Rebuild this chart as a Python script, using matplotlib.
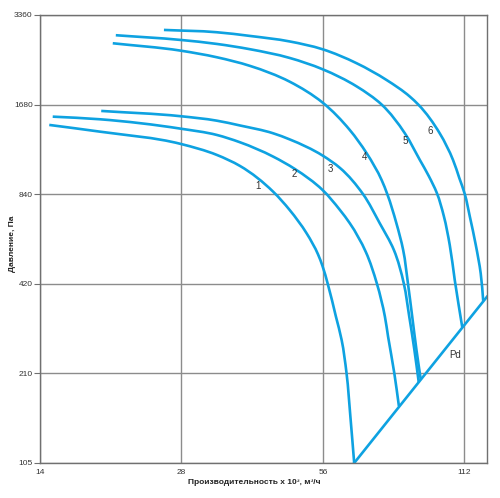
import numpy as np
import matplotlib
matplotlib.use("Agg")
import matplotlib.pyplot as plt
from matplotlib.path import Path
from matplotlib.patches import PathPatch
from matplotlib.ticker import FixedLocator, NullLocator

plt.rcParams['font.family'] = ['Liberation Sans', 'DejaVu Sans']

# fan curves, Q in 10^3 m3/h, P in Pa
q1 = [14.65, 18.8, 27.9, 33.3, 37.3, 43.9, 47.6, 51.7, 54.7, 55.9, 57.4, 59.7, 61.4, 62.9, 64.1, 65.3]
p1 = [1435, 1362, 1239, 1138, 1045, 856, 743, 621, 527, 482, 418, 326, 272, 210, 150, 105]

q2 = [14.9, 18.8, 27.9, 33.3, 37.3, 43.9, 48.8, 55.9, 60.9, 63.9, 69.1, 73.0, 75.9, 77.1, 79.5, 81.3]
p2 = [1530, 1499, 1394, 1328, 1255, 1123, 1021, 868, 743, 671, 538, 420, 326, 279, 210, 163]

q3 = [18.9, 27.9, 33.3, 37.3, 43.9, 47.6, 55.9, 60.9, 68.2, 74.0, 79.3, 83.3, 85.5, 87.7, 89.6]
p3 = [1599, 1535, 1483, 1429, 1345, 1283, 1133, 1029, 840, 671, 546, 420, 327, 252, 196]

q4 = [20.0, 27.9, 33.3, 39.2, 47.6, 55.9, 63.9, 69.4, 74.7, 76.8, 80.3, 83.0, 85.0, 86.8, 88.6, 90.5]
p4 = [2699, 2549, 2422, 2265, 2005, 1707, 1380, 1153, 937, 840, 671, 546, 420, 325, 252, 200]

q5 = [20.3, 27.9, 33.3, 39.2, 47.6, 55.9, 66.1, 74.7, 83.7, 90.1, 94.1, 97.9, 101.3, 104.3, 106.9, 110.9]
p5 = [2872, 2769, 2685, 2577, 2409, 2208, 1933, 1680, 1345, 1094, 967, 848, 710, 567, 432, 300]

q6 = [25.7, 33.3, 39.2, 47.6, 55.9, 66.1, 76.5, 85.8, 89.4, 99.3, 106.0, 109.3, 112.3, 115.1, 118.5, 121.4, 122.9]
p6 = [2992, 2939, 2856, 2737, 2577, 2312, 2032, 1786, 1680, 1345, 1094, 952, 840, 706, 567, 455, 368]

# dynamic pressure line
pd_q = [65.3, 125.2]
pd_p = [105, 380]

curves = [(q1, p1), (q2, p2), (q3, p3), (q4, p4), (q5, p5), (q6, p6)]
labels = ['1', '2', '3', '4', '5', '6']
label_q = [40.7, 48.7, 58.0, 68.6, 83.7, 94.6]
label_p = [895, 982, 1018, 1123, 1271, 1373]

x_ticks = [14, 28, 56, 112]
y_ticks = [105, 210, 420, 840, 1680, 3360]
x_lim = (14, 125.2)
y_lim = (105, 3360)

blue = '#0ea2e1'
grid_c = '#8c8c8c'


def smooth_path(q, p):
    # bezier path through the read points, tangents from the neighbours (log space)
    pts = np.log2(np.column_stack([q, p]))
    span = np.log2([x_lim[1] / x_lim[0], y_lim[1] / y_lim[0]])
    h = np.linalg.norm(np.diff(pts / span, axis=0), axis=1)
    slope = np.diff(pts, axis=0) / h[:, None]
    tan = np.empty_like(pts)
    tan[0], tan[-1] = slope[0], slope[-1]
    tan[1:-1] = (h[1:, None] * slope[:-1] + h[:-1, None] * slope[1:]) / (h[:-1] + h[1:])[:, None]
    verts = [pts[0]]
    codes = [Path.MOVETO]
    for i in range(len(pts) - 1):
        verts += [pts[i] + tan[i] * h[i] / 3, pts[i + 1] - tan[i + 1] * h[i] / 3, pts[i + 1]]
        codes += [Path.CURVE4] * 3
    return Path(2 ** np.array(verts), codes)


fig = plt.figure(figsize=(5.0, 4.98), dpi=100)
ax = fig.add_axes([0.08, 0.0703, 0.894, 0.8997])

ax.set_xscale('log', base=2)
ax.set_yscale('log', base=2)

for q, p in curves:
    ax.add_patch(PathPatch(smooth_path(q, p), fill=False, edgecolor=blue, lw=1.9,
                           capstyle='butt'))
ax.plot(pd_q, pd_p, color=blue, lw=1.9)

for t, q, p in zip(labels, label_q, label_p):
    ax.text(q, p, t, fontsize=7, color='#333333', ha='center', va='center')
ax.text(106.9, 242, 'Pd', fontsize=7, color='#333333', ha='center', va='center')

ax.set_xlim(*x_lim)
ax.set_ylim(*y_lim)

ax.xaxis.set_major_locator(FixedLocator(x_ticks))
ax.yaxis.set_major_locator(FixedLocator(y_ticks))
ax.xaxis.set_minor_locator(NullLocator())
ax.yaxis.set_minor_locator(NullLocator())
ax.set_xticklabels([str(v) for v in x_ticks])
ax.set_yticklabels([str(v) for v in y_ticks])

ax.grid(True, color=grid_c, lw=1.0)
ax.set_axisbelow(True)
for s in ax.spines.values():
    s.set_color('#707070')
    s.set_linewidth(1.0)
ax.tick_params(axis='y', length=4.3, width=0.8, color='#707070',
               labelsize=6, labelcolor='#333333', pad=1)
ax.tick_params(axis='x', length=0, labelsize=6, labelcolor='#333333', pad=4)

ax.set_xlabel('Производительность х 10³, м³/ч', fontsize=6, fontweight='bold',
              color='#222222')
ax.xaxis.set_label_coords(0.479, -0.036)
ax.set_ylabel('Давление, Па', fontsize=6, fontweight='bold', color='#222222')
ax.yaxis.set_label_coords(-0.054, 0.489)

fig.savefig('out.png', dpi=100)
